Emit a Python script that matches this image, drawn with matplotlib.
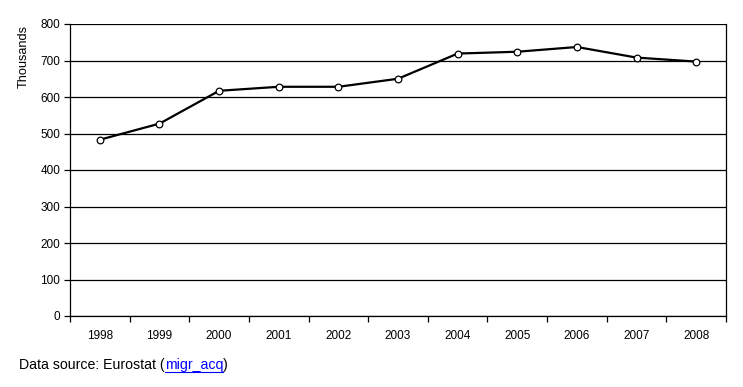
import matplotlib
matplotlib.use("Agg")
import matplotlib.pyplot as plt
import numpy as np

years = ["1998", "1999", "2000", "2001", "2002", "2003", "2004", "2005", "2006", "2007", "2008"]
values = [483, 527, 617, 628, 628, 650, 719, 724, 737, 708, 697]
yticks = [0, 100, 200, 300, 400, 500, 600, 700, 800]

plt.rcParams['font.family'] = ['Liberation Sans', 'DejaVu Sans']

W, H = 743, 387
fig = plt.figure(figsize=(W / 100, H / 100), dpi=100)
ax = fig.add_axes([70 / W, 1 - 316 / H, (726 - 70) / W, (316 - 24) / H])

x = np.arange(len(years))
ax.plot(x, values, color='black', lw=1.6, marker='o', markersize=4.8,
        markerfacecolor='white', markeredgecolor='black', markeredgewidth=0.9, zorder=3)

ax.set_xlim(-0.5, len(years) - 0.5)
ax.set_ylim(0, 800)
ax.set_yticks(yticks)
ax.set_yticklabels([str(v) for v in yticks], fontsize=8.5)
ax.yaxis.grid(True, color='black', lw=0.9)
ax.set_axisbelow(True)

ax.set_xticks(x)
ax.set_xticklabels(years, fontsize=8.5)
ax.set_xticks(np.arange(-0.5, len(years)), minor=True)
ax.tick_params(axis='x', which='major', length=0, pad=10)
ax.tick_params(axis='x', which='minor', length=4, width=0.9, direction='out')
ax.tick_params(axis='y', length=4, width=0.9, direction='out', pad=3)

for s in ['left', 'bottom', 'right']:
    ax.spines[s].set_color('black')
    ax.spines[s].set_linewidth(0.9)
ax.spines['top'].set_visible(False)

fig.text(24 / W, 1 - 56 / H, "Thousands", fontsize=9.2, rotation=90, ha='center', va='center')

fs = 10.2
t1 = fig.text(19 / W, 1 - 365 / H, "Data source: Eurostat (", fontsize=fs, va='center', ha='left')
fig.canvas.draw()
bb = t1.get_window_extent()
t2 = fig.text(bb.x1 / W, 1 - 365 / H, "migr_acq", fontsize=fs, va='center', ha='left', color='#0000ff')
bb2 = t2.get_window_extent()
fig.text(bb2.x1 / W, 1 - 365 / H, ")", fontsize=fs, va='center', ha='left')
fig.add_artist(plt.Line2D([bb2.x0 / W, bb2.x1 / W], [(1 - 372 / H), (1 - 372 / H)], color='#0000ff', lw=0.8))

fig.savefig("out.png", dpi=100)
